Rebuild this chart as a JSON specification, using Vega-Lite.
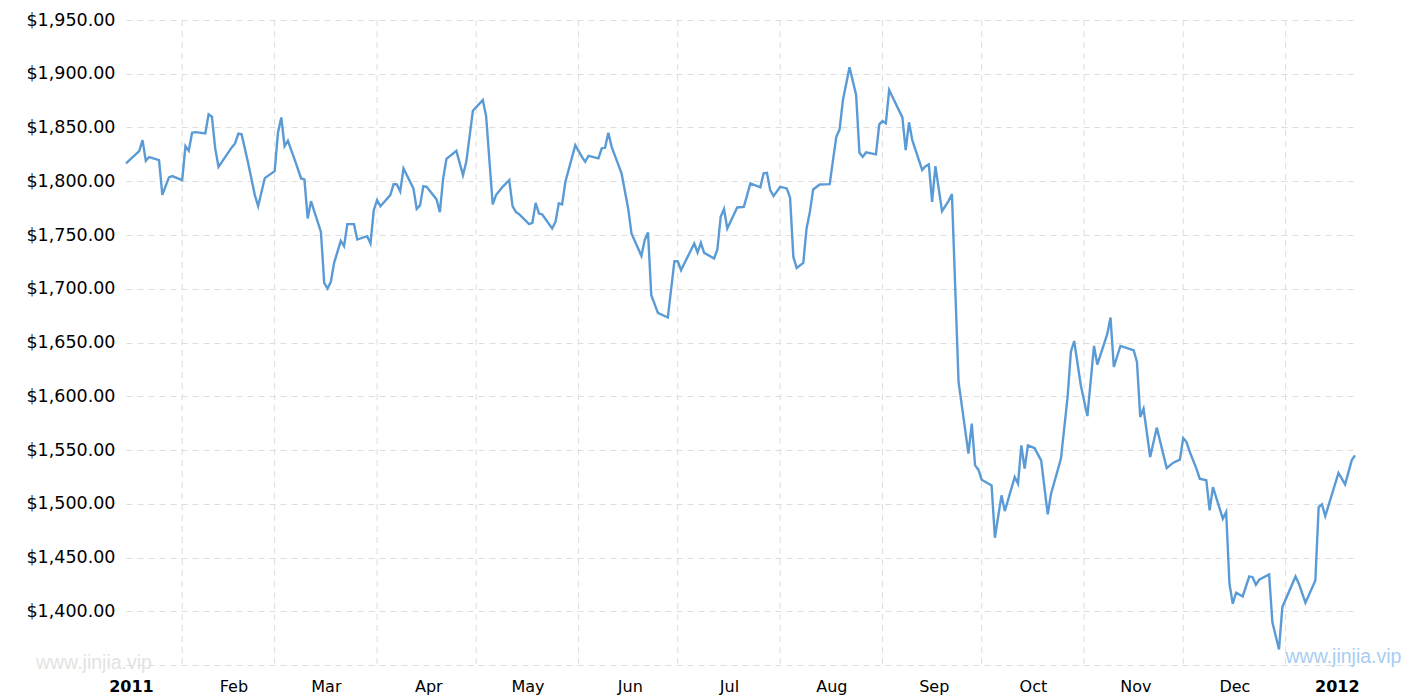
{
  "$schema": "https://vega.github.io/schema/vega-lite/v6.json",
  "width": 1229,
  "height": 645,
  "autosize": {"type": "none"},
  "padding": {"left": 126, "top": 20, "right": 60, "bottom": 35},
  "background": "white",
  "config": {"view": {"stroke": null}},
  "datasets": {
    "prices": [
      {"date": "2011-01-15", "price": 1816.6}, {"date": "2011-01-19", "price": 1828.0}, {"date": "2011-01-20", "price": 1838.3},
      {"date": "2011-01-21", "price": 1819.0}, {"date": "2011-01-22", "price": 1822.5}, {"date": "2011-01-25", "price": 1819.7},
      {"date": "2011-01-26", "price": 1787.4}, {"date": "2011-01-28", "price": 1803.6}, {"date": "2011-01-29", "price": 1804.8},
      {"date": "2011-02-01", "price": 1801.0}, {"date": "2011-02-02", "price": 1832.7}, {"date": "2011-02-03", "price": 1828.3},
      {"date": "2011-02-04", "price": 1845.1}, {"date": "2011-02-05", "price": 1845.7}, {"date": "2011-02-08", "price": 1844.5},
      {"date": "2011-02-09", "price": 1862.2}, {"date": "2011-02-10", "price": 1860.0}, {"date": "2011-02-11", "price": 1830.6},
      {"date": "2011-02-12", "price": 1813.4}, {"date": "2011-02-16", "price": 1831.5}, {"date": "2011-02-17", "price": 1835.2},
      {"date": "2011-02-18", "price": 1844.2}, {"date": "2011-02-19", "price": 1843.6}, {"date": "2011-02-21", "price": 1816.6},
      {"date": "2011-02-23", "price": 1787.1}, {"date": "2011-02-24", "price": 1776.8}, {"date": "2011-02-26", "price": 1802.9},
      {"date": "2011-03-01", "price": 1809.4}, {"date": "2011-03-02", "price": 1845.1}, {"date": "2011-03-03", "price": 1859.4},
      {"date": "2011-03-04", "price": 1832.7}, {"date": "2011-03-05", "price": 1837.6}, {"date": "2011-03-07", "price": 1820.6},
      {"date": "2011-03-09", "price": 1802.6}, {"date": "2011-03-10", "price": 1801.7}, {"date": "2011-03-11", "price": 1765.4},
      {"date": "2011-03-12", "price": 1781.5}, {"date": "2011-03-15", "price": 1752.9}, {"date": "2011-03-16", "price": 1705.4},
      {"date": "2011-03-17", "price": 1700.2}, {"date": "2011-03-18", "price": 1706.4}, {"date": "2011-03-19", "price": 1724.1},
      {"date": "2011-03-21", "price": 1744.5}, {"date": "2011-03-22", "price": 1739.6}, {"date": "2011-03-23", "price": 1760.1},
      {"date": "2011-03-25", "price": 1760.1}, {"date": "2011-03-26", "price": 1745.8}, {"date": "2011-03-29", "price": 1748.9},
      {"date": "2011-03-30", "price": 1742.1}, {"date": "2011-03-31", "price": 1773.1}, {"date": "2011-04-01", "price": 1782.4},
      {"date": "2011-04-02", "price": 1776.8}, {"date": "2011-04-05", "price": 1787.1}, {"date": "2011-04-06", "price": 1797.3},
      {"date": "2011-04-07", "price": 1797.0}, {"date": "2011-04-08", "price": 1790.5}, {"date": "2011-04-09", "price": 1811.9},
      {"date": "2011-04-12", "price": 1793.3}, {"date": "2011-04-13", "price": 1774.3}, {"date": "2011-04-14", "price": 1777.5},
      {"date": "2011-04-15", "price": 1795.5}, {"date": "2011-04-16", "price": 1794.8}, {"date": "2011-04-19", "price": 1783.1},
      {"date": "2011-04-20", "price": 1771.3}, {"date": "2011-04-21", "price": 1802.6}, {"date": "2011-04-22", "price": 1820.9},
      {"date": "2011-04-25", "price": 1828.3}, {"date": "2011-04-27", "price": 1805.7}, {"date": "2011-04-28", "price": 1818.1},
      {"date": "2011-04-30", "price": 1865.6}, {"date": "2011-05-03", "price": 1875.5}, {"date": "2011-05-04", "price": 1860.6},
      {"date": "2011-05-06", "price": 1778.4}, {"date": "2011-05-07", "price": 1787.1}, {"date": "2011-05-09", "price": 1794.8},
      {"date": "2011-05-11", "price": 1801.0}, {"date": "2011-05-12", "price": 1776.8}, {"date": "2011-05-13", "price": 1771.5},
      {"date": "2011-05-14", "price": 1769.4}, {"date": "2011-05-17", "price": 1760.1}, {"date": "2011-05-18", "price": 1761.3},
      {"date": "2011-05-19", "price": 1779.9}, {"date": "2011-05-20", "price": 1770.0}, {"date": "2011-05-21", "price": 1769.1},
      {"date": "2011-05-24", "price": 1756.1}, {"date": "2011-05-25", "price": 1762.2}, {"date": "2011-05-26", "price": 1779.4},
      {"date": "2011-05-27", "price": 1778.4}, {"date": "2011-05-28", "price": 1799.5}, {"date": "2011-05-31", "price": 1833.6},
      {"date": "2011-06-02", "price": 1822.7}, {"date": "2011-06-03", "price": 1818.1}, {"date": "2011-06-04", "price": 1823.7},
      {"date": "2011-06-07", "price": 1821.3}, {"date": "2011-06-08", "price": 1830.6}, {"date": "2011-06-09", "price": 1831.1},
      {"date": "2011-06-10", "price": 1845.1}, {"date": "2011-06-11", "price": 1832.0}, {"date": "2011-06-14", "price": 1807.3},
      {"date": "2011-06-16", "price": 1774.7}, {"date": "2011-06-17", "price": 1751.4}, {"date": "2011-06-20", "price": 1730.6},
      {"date": "2011-06-21", "price": 1745.3}, {"date": "2011-06-22", "price": 1752.4}, {"date": "2011-06-23", "price": 1694.0},
      {"date": "2011-06-25", "price": 1677.5}, {"date": "2011-06-28", "price": 1673.2}, {"date": "2011-06-30", "price": 1725.6},
      {"date": "2011-07-01", "price": 1725.6}, {"date": "2011-07-02", "price": 1717.3}, {"date": "2011-07-06", "price": 1742.1},
      {"date": "2011-07-07", "price": 1733.7}, {"date": "2011-07-08", "price": 1742.7}, {"date": "2011-07-09", "price": 1733.4},
      {"date": "2011-07-12", "price": 1728.2}, {"date": "2011-07-13", "price": 1736.5}, {"date": "2011-07-14", "price": 1766.9},
      {"date": "2011-07-15", "price": 1774.1}, {"date": "2011-07-16", "price": 1756.1}, {"date": "2011-07-19", "price": 1775.6},
      {"date": "2011-07-21", "price": 1776.2}, {"date": "2011-07-23", "price": 1798.0}, {"date": "2011-07-26", "price": 1794.3},
      {"date": "2011-07-27", "price": 1807.3}, {"date": "2011-07-28", "price": 1807.8}, {"date": "2011-07-29", "price": 1791.7},
      {"date": "2011-07-30", "price": 1786.2}, {"date": "2011-08-01", "price": 1794.8}, {"date": "2011-08-03", "price": 1793.3},
      {"date": "2011-08-04", "price": 1784.9}, {"date": "2011-08-05", "price": 1729.6}, {"date": "2011-08-06", "price": 1719.4},
      {"date": "2011-08-08", "price": 1724.1}, {"date": "2011-08-09", "price": 1756.1}, {"date": "2011-08-10", "price": 1771.5},
      {"date": "2011-08-11", "price": 1792.4}, {"date": "2011-08-13", "price": 1797.0}, {"date": "2011-08-16", "price": 1797.3},
      {"date": "2011-08-17", "price": 1819.7}, {"date": "2011-08-18", "price": 1841.4}, {"date": "2011-08-19", "price": 1848.3},
      {"date": "2011-08-20", "price": 1875.5}, {"date": "2011-08-22", "price": 1906.0}, {"date": "2011-08-24", "price": 1880.2},
      {"date": "2011-08-25", "price": 1826.5}, {"date": "2011-08-26", "price": 1822.7}, {"date": "2011-08-27", "price": 1826.8},
      {"date": "2011-08-30", "price": 1825.0}, {"date": "2011-08-31", "price": 1852.9}, {"date": "2011-09-01", "price": 1856.0},
      {"date": "2011-09-02", "price": 1853.8}, {"date": "2011-09-03", "price": 1884.8}, {"date": "2011-09-07", "price": 1859.4},
      {"date": "2011-09-08", "price": 1829.0}, {"date": "2011-09-09", "price": 1854.8}, {"date": "2011-09-10", "price": 1838.3},
      {"date": "2011-09-13", "price": 1810.4}, {"date": "2011-09-14", "price": 1814.1}, {"date": "2011-09-15", "price": 1815.7},
      {"date": "2011-09-16", "price": 1780.8}, {"date": "2011-09-17", "price": 1814.1}, {"date": "2011-09-19", "price": 1772.2},
      {"date": "2011-09-21", "price": 1781.8}, {"date": "2011-09-22", "price": 1788.0}, {"date": "2011-09-24", "price": 1613.3},
      {"date": "2011-09-27", "price": 1546.6}, {"date": "2011-09-28", "price": 1574.5}, {"date": "2011-09-29", "price": 1535.7},
      {"date": "2011-09-30", "price": 1531.7}, {"date": "2011-10-01", "price": 1522.4}, {"date": "2011-10-04", "price": 1517.1},
      {"date": "2011-10-05", "price": 1468.4}, {"date": "2011-10-07", "price": 1507.8}, {"date": "2011-10-08", "price": 1493.2},
      {"date": "2011-10-11", "price": 1524.8}, {"date": "2011-10-12", "price": 1518.7}, {"date": "2011-10-13", "price": 1554.3},
      {"date": "2011-10-14", "price": 1532.7}, {"date": "2011-10-15", "price": 1554.3}, {"date": "2011-10-17", "price": 1551.8},
      {"date": "2011-10-19", "price": 1540.4}, {"date": "2011-10-21", "price": 1490.1}, {"date": "2011-10-22", "price": 1509.4},
      {"date": "2011-10-25", "price": 1542.0}, {"date": "2011-10-27", "price": 1599.3}, {"date": "2011-10-28", "price": 1641.2},
      {"date": "2011-10-29", "price": 1651.4}, {"date": "2011-10-31", "price": 1610.2}, {"date": "2011-11-02", "price": 1581.6},
      {"date": "2011-11-04", "price": 1646.8}, {"date": "2011-11-05", "price": 1629.5}, {"date": "2011-11-08", "price": 1657.7},
      {"date": "2011-11-09", "price": 1673.2}, {"date": "2011-11-10", "price": 1627.2}, {"date": "2011-11-12", "price": 1646.8},
      {"date": "2011-11-16", "price": 1642.8}, {"date": "2011-11-17", "price": 1631.9}, {"date": "2011-11-18", "price": 1580.7},
      {"date": "2011-11-19", "price": 1588.5}, {"date": "2011-11-21", "price": 1543.5}, {"date": "2011-11-23", "price": 1570.8},
      {"date": "2011-11-26", "price": 1533.2}, {"date": "2011-11-28", "price": 1538.2}, {"date": "2011-11-30", "price": 1541.0},
      {"date": "2011-12-01", "price": 1561.1}, {"date": "2011-12-02", "price": 1557.4}, {"date": "2011-12-03", "price": 1548.1},
      {"date": "2011-12-05", "price": 1532.7}, {"date": "2011-12-06", "price": 1523.3}, {"date": "2011-12-08", "price": 1521.8},
      {"date": "2011-12-09", "price": 1493.8}, {"date": "2011-12-10", "price": 1515.5}, {"date": "2011-12-13", "price": 1486.1},
      {"date": "2011-12-14", "price": 1492.3}, {"date": "2011-12-15", "price": 1425.6}, {"date": "2011-12-16", "price": 1407.0},
      {"date": "2011-12-17", "price": 1417.2}, {"date": "2011-12-19", "price": 1413.8}, {"date": "2011-12-21", "price": 1432.4},
      {"date": "2011-12-22", "price": 1431.7}, {"date": "2011-12-23", "price": 1424.7}, {"date": "2011-12-24", "price": 1429.3},
      {"date": "2011-12-27", "price": 1434.3}, {"date": "2011-12-28", "price": 1389.8}, {"date": "2011-12-30", "price": 1364.4},
      {"date": "2011-12-31", "price": 1403.8}, {"date": "2012-01-04", "price": 1432.4}, {"date": "2012-01-05", "price": 1425.6},
      {"date": "2012-01-07", "price": 1407.9}, {"date": "2012-01-10", "price": 1428.7}, {"date": "2012-01-11", "price": 1496.9},
      {"date": "2012-01-12", "price": 1499.4}, {"date": "2012-01-13", "price": 1488.5}, {"date": "2012-01-17", "price": 1528.6},
      {"date": "2012-01-19", "price": 1518.0}, {"date": "2012-01-21", "price": 1540.4}, {"date": "2012-01-22", "price": 1545.0}
    ],
    "months": [
      {"date": "2011-02-01"}, {"date": "2011-03-01"}, {"date": "2011-04-01"}, {"date": "2011-05-01"},
      {"date": "2011-06-01"}, {"date": "2011-07-01"}, {"date": "2011-08-01"}, {"date": "2011-09-01"},
      {"date": "2011-10-01"}, {"date": "2011-11-01"}, {"date": "2011-12-01"}, {"date": "2012-01-01"}
    ],
    "marks": [
      {"site": "www.jinjia.vip"}
    ]
  },
  "layer": [
    {
      "data": {"name": "months"},
      "mark": {"type": "rule", "color": "#dddddd", "strokeWidth": 1, "strokeDash": [6, 5]},
      "encoding": {
        "x": {
          "field": "date",
          "type": "temporal",
          "title": null,
          "scale": {
            "type": "utc",
            "domain": [
              {"year": 2011, "month": 1, "date": 15, "utc": true},
              {"year": 2012, "month": 1, "date": 22, "utc": true}
            ]
          },
          "axis": {
            "values": [
              {"year": 2011, "month": 1, "date": 16, "hours": 12, "utc": true},
              {"year": 2011, "month": 2, "date": 16, "hours": 12, "utc": true},
              {"year": 2011, "month": 3, "date": 16, "hours": 12, "utc": true},
              {"year": 2011, "month": 4, "date": 16, "hours": 12, "utc": true},
              {"year": 2011, "month": 5, "date": 16, "hours": 12, "utc": true},
              {"year": 2011, "month": 6, "date": 16, "hours": 12, "utc": true},
              {"year": 2011, "month": 7, "date": 16, "hours": 12, "utc": true},
              {"year": 2011, "month": 8, "date": 16, "hours": 12, "utc": true},
              {"year": 2011, "month": 9, "date": 16, "hours": 12, "utc": true},
              {"year": 2011, "month": 10, "date": 16, "hours": 12, "utc": true},
              {"year": 2011, "month": 11, "date": 16, "hours": 12, "utc": true},
              {"year": 2011, "month": 12, "date": 16, "hours": 12, "utc": true},
              {"year": 2012, "month": 1, "date": 16, "hours": 12, "utc": true}
            ],
            "labelExpr": "utcmonth(datum.value) == 0 ? utcFormat(datum.value, '%Y') : utcFormat(datum.value, '%b')",
            "labelFontWeight": {"condition": {"test": "utcmonth(datum.value) == 0", "value": "bold"}, "value": "normal"},
            "labelFont": "DejaVu Sans",
            "labelFontSize": 16,
            "labelColor": "#000000",
            "labelPadding": 13,
            "labelAlign": "center",
            "grid": false,
            "ticks": false,
            "tickSize": 0,
            "domain": false
          }
        }
      }
    },
    {
      "data": {"name": "prices"},
      "mark": {"type": "line", "color": "#5b9bd5", "strokeWidth": 2.4, "interpolate": "linear"},
      "encoding": {
        "x": {"field": "date", "type": "temporal"},
        "y": {
          "field": "price",
          "type": "quantitative",
          "title": null,
          "scale": {"domain": [1350, 1950], "nice": false, "zero": false},
          "axis": {
            "values": [1350, 1400, 1450, 1500, 1550, 1600, 1650, 1700, 1750, 1800, 1850, 1900, 1950],
            "labelExpr": "datum.value == 1350 ? '' : format(datum.value, '$,.2f')",
            "labelFont": "DejaVu Sans",
            "labelFontSize": 17.5,
            "labelColor": "#000000",
            "labelPadding": 11,
            "grid": true,
            "gridColor": "#dddddd",
            "gridDash": [6, 5],
            "gridWidth": 1,
            "ticks": false,
            "tickSize": 0,
            "domain": false
          }
        }
      }
    },
    {
      "data": {"name": "marks"},
      "mark": {"type": "text", "font": "Liberation Sans", "fontSize": 19.5, "color": "#e3e3e3", "align": "center", "baseline": "alphabetic"},
      "encoding": {
        "text": {"field": "site", "type": "nominal"},
        "x": {"datum": {"year": 2011, "month": 1, "date": 5, "hours": 7, "utc": true}, "type": "temporal"},
        "y": {"datum": 1346.7, "type": "quantitative"}
      }
    },
    {
      "data": {"name": "marks"},
      "mark": {"type": "text", "font": "Liberation Sans", "fontSize": 19.5, "color": "#a8cdf2", "align": "center", "baseline": "alphabetic"},
      "encoding": {
        "text": {"field": "site", "type": "nominal"},
        "x": {"datum": {"year": 2012, "month": 1, "date": 18, "hours": 12, "utc": true}, "type": "temporal"},
        "y": {"datum": 1351.4, "type": "quantitative"}
      }
    }
  ]
}
